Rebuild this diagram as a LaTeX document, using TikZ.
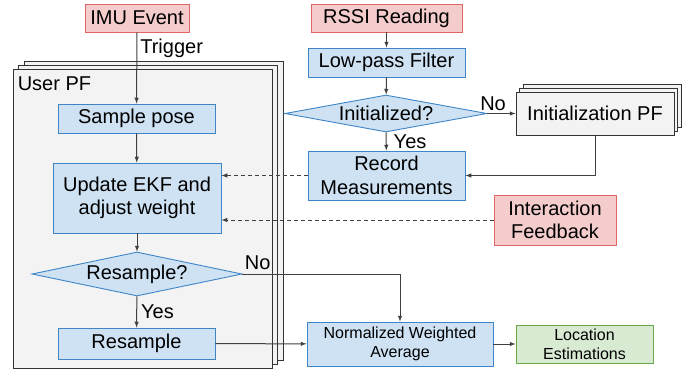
\documentclass[tikz,border=0pt]{standalone}
\usepackage{fontspec}
\setmainfont{Liberation Sans}
\usetikzlibrary{shapes.geometric,shadows}
\definecolor{boxblue}{HTML}{CFE2F3}
\definecolor{lineblue}{HTML}{3D85C6}
\definecolor{evpink}{HTML}{F4CCCC}
\definecolor{evred}{HTML}{E06666}
\definecolor{resfill}{HTML}{D9EAD3}
\definecolor{resgreen}{HTML}{6AA84F}
\definecolor{stackgray}{HTML}{F3F3F3}

\begin{document}
\begin{tikzpicture}[x=1pt,y=-1pt,font=\fontsize{20}{23.5}\selectfont,
  box/.style={draw=lineblue,fill=boxblue,line width=0.9pt,inner sep=0pt,align=center},
  event/.style={box,draw=evred,fill=evpink},
  result/.style={box,draw=resgreen,fill=resfill},
  decision/.style={box,diamond},
  stack/.style={draw=black!80,fill=stackgray,line width=0.9pt,inner sep=0pt,
    double copy shadow={shadow xshift=#1,shadow yshift=4pt,fill=stackgray,draw=black!80,line width=0.9pt}},
  flow/.style={-latex,line width=1pt,draw=black!75},
  feed/.style={flow,dash pattern=on 4pt off 3pt},
  small/.style={font=\fontsize{16}{19}\selectfont}]
  \useasboundingbox (0,0) rectangle (696,375);

  % the particle filter stack
  \node[stack=5.5pt,minimum width=259pt,minimum height=299pt] (userpf) at (142.5,218.5) {};
  \node[anchor=north west,inner sep=0pt] (userpflabel) at ([shift={(5,8)}]userpf.north west) {User PF};

  % left column
  \node[event,minimum width=104pt,minimum height=28pt] (imu) at (137,18) {IMU Event};
  \node[box,minimum width=157pt,minimum height=29pt] (sample) at (136.5,118.5) {Sample pose};
  \node[box,minimum width=168pt,minimum height=70pt] (update) at (137,198) {Update EKF and\\adjust weight};
  \node[decision,aspect=4.77,minimum width=210pt,minimum height=44pt] (resampq) at (137,274) {Resample?};
  \node[box,minimum width=157pt,minimum height=31pt] (resample) at (136.5,343.5) {Resample};

  % right column
  \node[event,minimum width=151pt,minimum height=28pt] (rssi) at (386.5,18) {RSSI Reading};
  \node[box,minimum width=157pt,minimum height=29pt] (lpf) at (386.5,62.5) {Low-pass Filter};
  \node[decision,aspect=5.46,minimum width=202pt,minimum height=37pt] (init) at (386,113.5) {Initialized?};
  \node[stack=3.5pt,minimum width=158pt,minimum height=43pt] (initpf) at (595,113.5) {Initialization PF};
  \node[box,minimum width=157pt,minimum height=49pt] (record) at (386.5,175.5) {Record\\Measurements};
  \node[event,minimum width=122pt,minimum height=50pt] (feedback) at (555,220) {Interaction\\Feedback};
  \node[box,small,minimum width=186pt,minimum height=44pt] (nwa) at (400,344) {Normalized Weighted\\Average};
  \node[result,small,minimum width=137pt,minimum height=38pt] (loc) at (584.5,344) {Location\\Estimations};

  % connectors
  \draw[flow] (imu) -- (sample) node[pos=0.23,right,inner sep=3pt] {Trigger};
  \draw[flow] (sample) -- (update);
  \draw[flow] (update) -- (resampq);
  \draw[flow] (resampq) -- (resample) node[midway,right,inner sep=4pt] {Yes};
  \draw[flow] (resampq.east) -| (nwa.north) node[pos=0,anchor=south west,inner sep=2pt,yshift=2pt] {No};
  \draw[flow] (resample) -- (nwa);
  \draw[flow] (nwa) -- (loc);
  \draw[flow] (rssi) -- (lpf);
  \draw[flow] (lpf) -- (init);
  \draw[flow] (init) -- (record) node[midway,right,inner sep=7pt] {Yes};
  \draw[flow] (init) -- (initpf) node[pos=0.2,above,inner sep=2pt] {No};
  \draw[flow] (initpf) |- (record);
  \draw[feed] (record.west) -- (record.west -| update.east);
  \draw[feed] (feedback.west) -- (feedback.west -| update.east);
\end{tikzpicture}
\end{document}
